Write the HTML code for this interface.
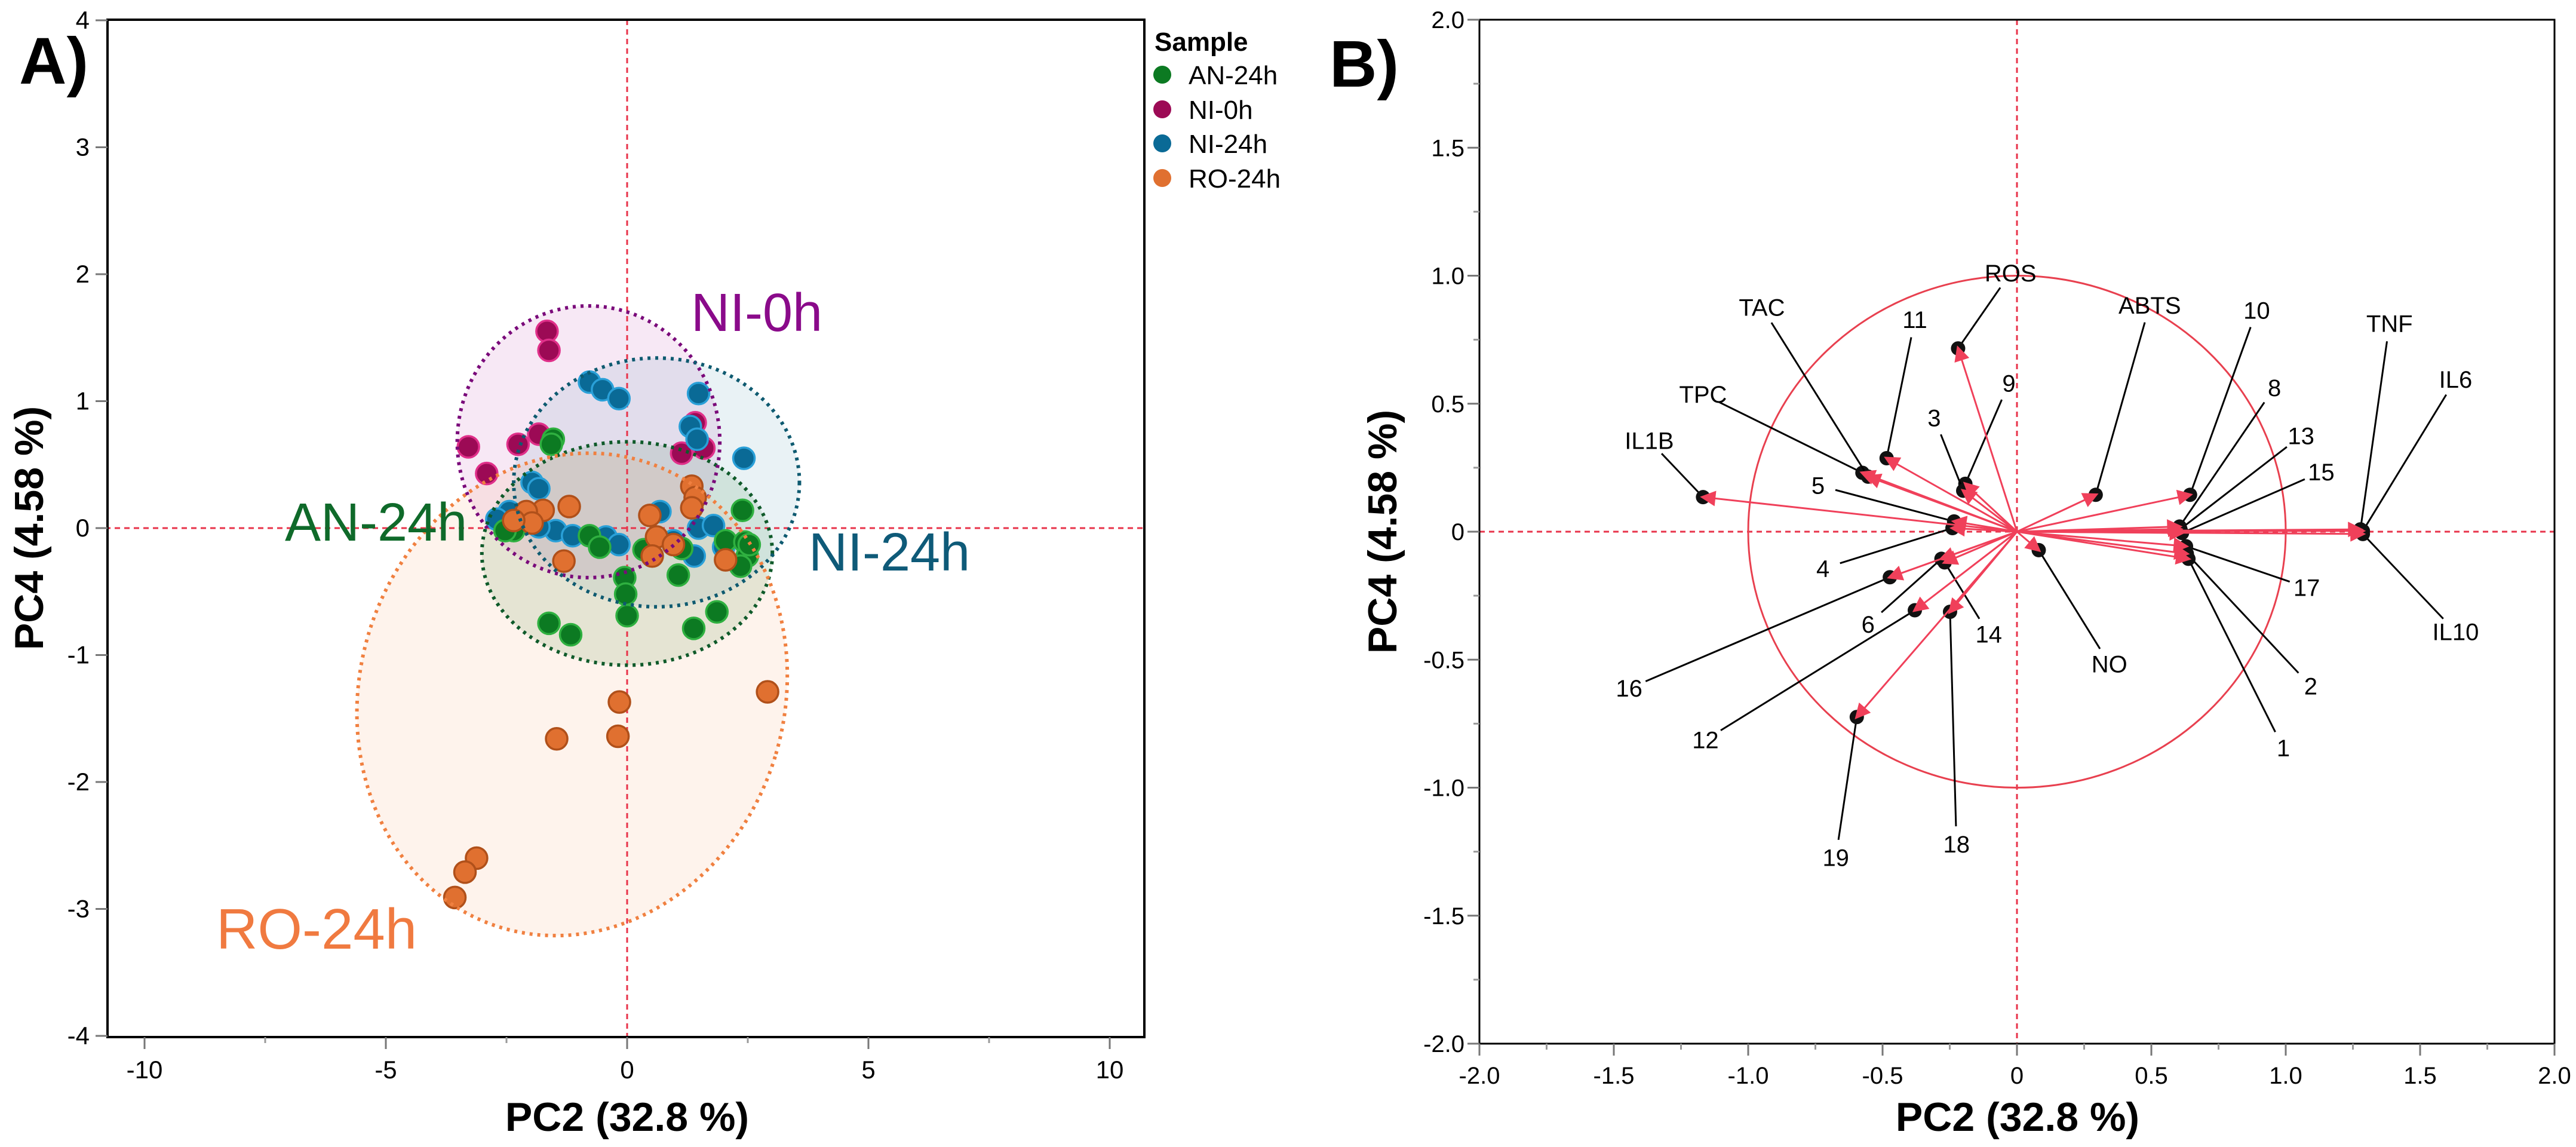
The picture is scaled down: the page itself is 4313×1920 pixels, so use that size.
<!DOCTYPE html>
<html><head><meta charset="utf-8"><style>
html,body{margin:0;padding:0;background:#fff;}
svg{display:block;font-family:"Liberation Sans",Arial,sans-serif;}
</style></head><body>
<svg id="fig" width="4313" height="1920" viewBox="0 0 4313 1920" xmlns="http://www.w3.org/2000/svg">
<defs>
<marker id="ah" viewBox="0 0 10 10" refX="8" refY="5" markerWidth="30" markerHeight="26" markerUnits="userSpaceOnUse" orient="auto"><path d="M0,0 L10,5 L0,10 z" fill="#f0405a"/></marker>
</defs>
<g id="gA"></g>
<g id="gB"></g>
</svg>
<script>
// ---------- Panel A data ----------
const groupNames = ["AN-24h","NI-0h","NI-24h","RO-24h"];
const anX = [-1.53,-1.57,2.39,-2.35,-0.78,-0.57,0.35,1.13,1.06,-0.05,-0.03,0,-1.62,-1.17,1.38,1.86,2.04,2.44,2.49,2.35,2.53,-2.53];
const anY = [0.70,0.66,0.14,-0.02,-0.06,-0.15,-0.17,-0.16,-0.37,-0.39,-0.52,-0.69,-0.75,-0.84,-0.79,-0.66,-0.10,-0.11,-0.22,-0.30,-0.13,-0.02];
const ni0X = [-1.66,-1.62,-3.29,-2.91,-2.26,-1.83,1.41,1.13,1.59];
const ni0Y = [1.55,1.40,0.64,0.43,0.66,0.74,0.83,0.59,0.63];
const ni24X = [-0.78,-0.51,-0.17,1.48,1.31,1.45,2.42,-1.97,-1.83,-2.44,-2.18,-1.48,-1.13,-0.44,-0.17,0.68,0.96,1.48,1.79,1.39,2.0,-2.70,-1.83];
const ni24Y = [1.15,1.09,1.02,1.06,0.80,0.70,0.55,0.36,0.31,0.13,0.06,-0.02,-0.06,-0.07,-0.13,0.13,-0.10,0,0.02,-0.22,-0.15,0.07,0.01];
const roX = [-1.20,-1.74,-2.09,-1.97,-2.35,-1.31,0.47,0.61,0.96,0.52,1.34,1.41,1.34,2.04,2.91,-0.16,-0.19,-1.46,-3.12,-3.36,-3.57];
const roY = [0.17,0.14,0.13,0.04,0.06,-0.26,0.10,-0.07,-0.13,-0.22,0.33,0.24,0.16,-0.25,-1.29,-1.37,-1.64,-1.66,-2.60,-2.71,-2.91];
// ellipses: order AN, NI-0h, NI-24h, RO
const ellCx = [0,-0.80,0.61,-1.14];
const ellCy = [-0.20,0.68,0.36,-1.31];
const ellRx = [3.01,2.72,2.96,4.40];
const ellRy = [0.88,1.07,0.98,1.92];
const ellAngle = [0,0,0,17];
const xTicksA = [-10,-5,0,5,10];
const yTicksA = [-4,-3,-2,-1,0,1,2,3,4];

// ---------- Panel B data ----------
const varNames = ["IL1B","TPC","TAC","11","ROS","9","3","5","4","16","6","14","12","18","19","NO","ABTS","10","8","13","15","17","2","1","TNF","IL6","IL10"];
const loadX = [-1.168,-0.575,-0.554,-0.485,-0.219,-0.192,-0.20,-0.234,-0.24,-0.473,-0.281,-0.269,-0.38,-0.249,-0.596,0.081,0.293,0.644,0.605,0.608,0.614,0.629,0.632,0.638,1.278,1.287,1.287];
const loadY = [0.135,0.23,0.215,0.287,0.716,0.187,0.16,0.04,0.014,-0.178,-0.106,-0.12,-0.307,-0.313,-0.724,-0.072,0.144,0.144,0.02,0.01,-0.005,-0.057,-0.086,-0.106,0.009,0.003,-0.009];
const labX = [-1.368,-1.168,-0.949,-0.38,-0.024,-0.03,-0.308,-0.74,-0.722,-1.443,-0.554,-0.105,-1.159,-0.225,-0.674,0.344,0.494,0.892,0.958,1.057,1.132,1.078,1.093,0.991,1.386,1.632,1.632];
const labY = [0.356,0.537,0.876,0.828,1.011,0.58,0.445,0.181,-0.144,-0.612,-0.362,-0.4,-0.813,-1.221,-1.273,-0.517,0.885,0.865,0.563,0.374,0.233,-0.218,-0.603,-0.845,0.813,0.595,-0.391];
const xTicksB = [-2.0,-1.5,-1.0,-0.5,0,0.5,1.0,1.5,2.0];
const yTicksB = [-2.0,-1.5,-1.0,-0.5,0,0.5,1.0,1.5,2.0];

const NS="http://www.w3.org/2000/svg";
function mk(parent,tag,attrs,text){const e=document.createElementNS(NS,tag);for(const k in attrs)e.setAttribute(k,attrs[k]);if(text!==undefined)e.textContent=text;parent.appendChild(e);return e;}

const A={l:180,r:1916,t:33,b:1736};
function ax(v){return 1050+80.8*v;}
function ay(v){return 884-212.5*v;}
const B={l:2477,r:4277,t:33,b:1747};
function bx(v){return 3377+450*v;}
function by(v){return 890-428.5*v;}

const gA=document.getElementById('gA');
const gB=document.getElementById('gB');
const red="#e8334a";

// ===== Panel A =====
let t=mk(gA,'text',{x:32,y:140,'font-size':110,'font-weight':'bold'},'A)');



const fills=["#3c8a3c","#c050b0","#4a90b0","#f8a070"];
const fillOp=[0.14,0.13,0.12,0.13];
const strokes=["#0f5a2a","#7a0a7a","#0e5a70","#f08040"];
for(let i=0;i<4;i++){
  const cx=ax(ellCx[i]),cy=ay(ellCy[i]);
  const e=mk(gA,'ellipse',{cx:cx,cy:cy,rx:ellRx[i]*80.8,ry:ellRy[i]*212.5,fill:fills[i],'fill-opacity':fillOp[i],stroke:'none',transform:`rotate(${ellAngle[i]} ${cx} ${cy})`});
  
  
}
let l=mk(gA,'line',{x1:A.l-20,y1:ay(0),x2:A.r,y2:ay(0),stroke:red,'stroke-width':3,'stroke-dasharray':'9 7'});


l=mk(gA,'line',{x1:ax(0),y1:A.t,x2:ax(0),y2:A.b,stroke:red,'stroke-width':3,'stroke-dasharray':'9 7'});



const ptFill=["#0c7a22","#9c0a55","#0a6a96","#e07030"];
const ptStroke=["#2fb040","#e0308a","#2aa0d8","#b0501a"];
const series=[[anX,anY],[ni0X,ni0Y],[ni24X,ni24Y],[roX,roY]];
const drawOrder=[1,2,0,3];
drawOrder.forEach(g=>{
  const xs=series[g][0],ys=series[g][1];
  for(let k=0;k<xs.length;k++){
    const c=mk(gA,'circle',{cx:ax(xs[k]),cy:ay(ys[k]),r:18,fill:ptFill[g],stroke:ptStroke[g],'stroke-width':3.5});
    
    
  }
});
for(let i=0;i<4;i++){
  const cx=ax(ellCx[i]),cy=ay(ellCy[i]);
  const e=mk(gA,'ellipse',{cx:cx,cy:cy,rx:ellRx[i]*80.8,ry:ellRy[i]*212.5,fill:'none',stroke:strokes[i],'stroke-width':6,'stroke-dasharray':'5 8',transform:`rotate(${ellAngle[i]} ${cx} ${cy})`});
  
  
}
const gl=[["NI-0h",1157,554,"#8a0a8a",90],["NI-24h",1354,955,"#0e5a78",90],["AN-24h",477,905,"#0f6a2a",90],["RO-24h",362,1588,"#f07a40",96]];
gl.forEach(g=>{
  const e=mk(gA,'text',{x:g[1],y:g[2],'font-size':g[4],fill:g[3]},g[0]);
  
  
});
let f=mk(gA,'rect',{x:A.l,y:A.t,width:A.r-A.l,height:A.b-A.t,fill:'none',stroke:'#000','stroke-width':4});


xTicksA.forEach(v=>{
  const tk=mk(gA,'line',{x1:ax(v),y1:A.b,x2:ax(v),y2:A.b+20,stroke:'#777','stroke-width':3});
  
  
  const tl=mk(gA,'text',{x:ax(v),y:1805,'font-size':42,'text-anchor':'middle'},String(v));
  
  
});
[-7.5,-2.5,2.5,7.5].forEach(v=>{
  const tk=mk(gA,'line',{x1:ax(v),y1:A.b,x2:ax(v),y2:A.b+10,stroke:'#999','stroke-width':3});
  
  
});
yTicksA.forEach(v=>{
  const tk=mk(gA,'line',{x1:A.l-20,y1:ay(v),x2:A.l,y2:ay(v),stroke:'#777','stroke-width':3});
  
  
  const tl=mk(gA,'text',{x:150,y:ay(v)+14,'font-size':42,'text-anchor':'end'},String(v));
  
  
});
t=mk(gA,'text',{x:1050,y:1893,'font-size':68,'font-weight':'bold','text-anchor':'middle'},'PC2  (32.8 %)');


t=mk(gA,'text',{x:0,y:0,'font-size':68,'font-weight':'bold','text-anchor':'middle',transform:'translate(72 884) rotate(-90)'},'PC4  (4.58 %)');


t=mk(gA,'text',{x:1933,y:85,'font-size':44,'font-weight':'bold'},'Sample');


const legY=[125,183,240,298];
for(let i=0;i<4;i++){
  const c=mk(gA,'circle',{cx:1946,cy:legY[i],r:15,fill:ptFill[i]});
  
  
  const tx=mk(gA,'text',{x:1990,y:legY[i]+16,'font-size':44},groupNames[i]);
  
  
}

// ===== Panel B =====
t=mk(gB,'text',{x:2226,y:145,'font-size':110,'font-weight':'bold'},'B)');


l=mk(gB,'line',{x1:B.l,y1:by(0),x2:B.r,y2:by(0),stroke:red,'stroke-width':3,'stroke-dasharray':'9 7'});


l=mk(gB,'line',{x1:bx(0),y1:B.t,x2:bx(0),y2:B.b+20,stroke:red,'stroke-width':3,'stroke-dasharray':'9 7'});


let circ=mk(gB,'ellipse',{cx:bx(0),cy:by(0),rx:450,ry:428.5,fill:'none',stroke:'#e8404f','stroke-width':3});


for(let i=0;i<varNames.length;i++){
  const px=bx(loadX[i]),py=by(loadY[i]);
  const lx=bx(labX[i]),ly=by(labY[i]);
  const dx=px-lx,dy=py-ly,d=Math.hypot(dx,dy);
  const sx=lx+dx/d*30,sy=ly+dy/d*30;
  const ld=mk(gB,'line',{x1:sx,y1:sy,x2:px,y2:py,stroke:'#000','stroke-width':3});
  
  
  const dot=mk(gB,'circle',{cx:px,cy:py,r:12,fill:'#111'});
  
  
}
for(let i=0;i<varNames.length;i++){
  const ar=mk(gB,'line',{x1:bx(0),y1:by(0),x2:bx(loadX[i]),y2:by(loadY[i]),stroke:'#f0405a','stroke-width':3,'marker-end':'url(#ah)'});
  
  
  const tx=mk(gB,'text',{x:bx(labX[i]),y:by(labY[i])+14,'font-size':40,'text-anchor':'middle'},varNames[i]);
  
  
}
f=mk(gB,'rect',{x:B.l,y:B.t,width:B.r-B.l,height:B.b-B.t,fill:'none',stroke:'#000','stroke-width':3});


xTicksB.forEach(v=>{
  const tk=mk(gB,'line',{x1:bx(v),y1:B.b,x2:bx(v),y2:B.b+20,stroke:'#777','stroke-width':3});
  
  
  const tl=mk(gB,'text',{x:bx(v),y:1814,'font-size':40,'text-anchor':'middle'},v===0?'0':v.toFixed(1));
  
  
});
yTicksB.forEach(v=>{
  const tk2=mk(gB,'line',{x1:B.l-20,y1:by(v),x2:B.l,y2:by(v),stroke:'#777','stroke-width':3});
  
  
  const tl2=mk(gB,'text',{x:2452,y:by(v)+14,'font-size':40,'text-anchor':'end'},v===0?'0':v.toFixed(1));
  
  
});
for(let k=0;k<8;k++){
  const v=-1.75+k*0.5;
  const tk=mk(gB,'line',{x1:bx(v),y1:B.b,x2:bx(v),y2:B.b+10,stroke:'#999','stroke-width':3});
  
  
  const tk2=mk(gB,'line',{x1:B.l-10,y1:by(v),x2:B.l,y2:by(v),stroke:'#999','stroke-width':3});
  
  
}
t=mk(gB,'text',{x:3378,y:1893,'font-size':68,'font-weight':'bold','text-anchor':'middle'},'PC2  (32.8 %)');


t=mk(gB,'text',{x:0,y:0,'font-size':68,'font-weight':'bold','text-anchor':'middle',transform:'translate(2338 890) rotate(-90)'},'PC4  (4.58 %)');


</script>
</body></html>
